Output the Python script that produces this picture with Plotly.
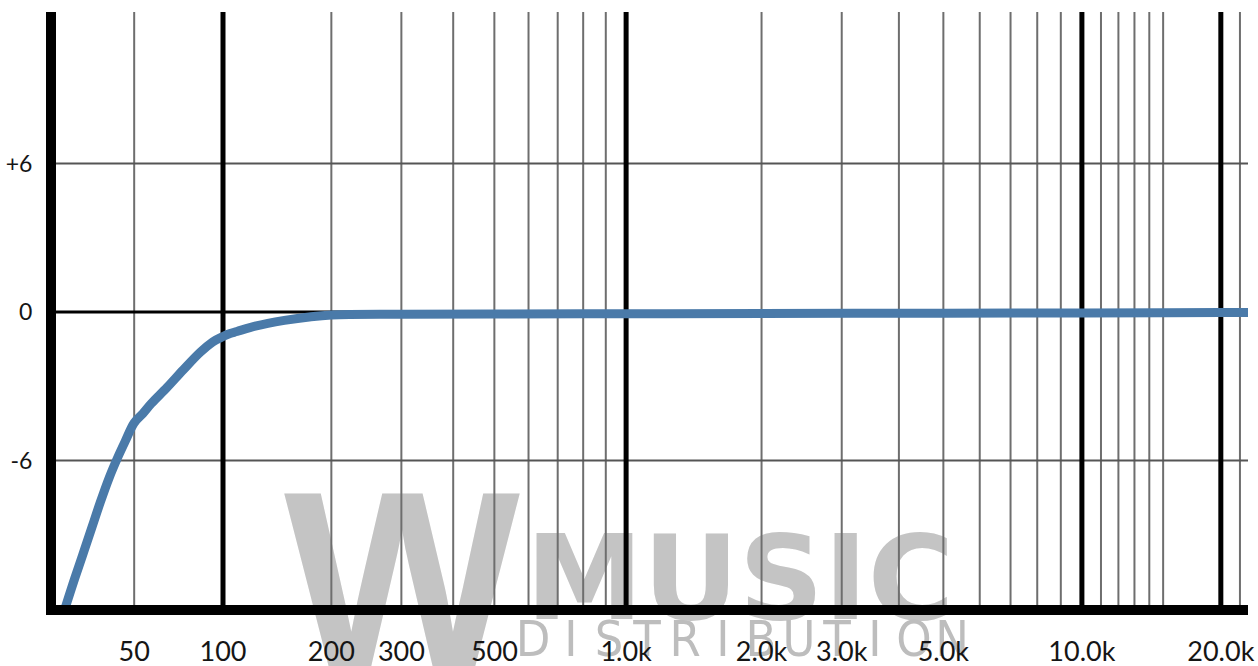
import math
import plotly.graph_objects as go

# High-pass response of the filter: frequency (Hz) and gain (dB)
freq_hz = [24, 27, 30, 33, 36, 39.5, 43, 46, 50, 54, 58, 66, 75, 85, 93, 100,
           105, 110, 120, 135, 150, 175, 200, 300, 500, 1000, 2000, 5000,
           10000, 15000, 20000, 22900]
gain_db = [-11.9, -10.75, -9.7, -8.68, -7.7, -6.69, -5.86, -5.24, -4.48, -4.1,
           -3.7, -3.05, -2.33, -1.63, -1.21, -0.99, -0.87, -0.79, -0.63, -0.46,
           -0.34, -0.2, -0.12, -0.09, -0.08, -0.07, -0.06, -0.05, -0.04, -0.03,
           -0.02, -0.02]

# Frequency grid lines
major_grid_hz = [100, 1000, 10000, 20000]
minor_grid_hz = [50, 200, 300, 400, 500, 600, 700, 800, 900,
                 2000, 3000, 4000, 5000, 6000, 7000, 8000, 9000,
                 11000, 12000, 13000, 14000, 15000, 22000]

# Axis labels
tick_hz = [50, 100, 200, 300, 500, 1000, 2000, 3000, 5000, 10000, 20000]
tick_text = ["50", "100", "200", "300", "500", "1.0k", "2.0k", "3.0k",
             "5.0k", "10.0k", "20.0k"]
gain_ticks = [6, 0, -6]
gain_tick_text = ["+6", "0", "-6"]
gain_grid_db = [6, -6]

X_MIN_HZ, X_MAX_HZ = 21, 22900
Y_MIN_DB, Y_MAX_DB = -11.84, 12.12
# Frequency axis is logarithmic in (f + FREQ_OFFSET_HZ), giving the bass more room
FREQ_OFFSET_HZ = 40


def fx(f):
    return f + FREQ_OFFSET_HZ


def vlines(freqs):
    xs, ys = [], []
    for f in freqs:
        xs += [fx(f), fx(f), None]
        ys += [Y_MIN_DB, Y_MAX_DB, None]
    return xs, ys


def hlines(levels):
    xs, ys = [], []
    for g in levels:
        xs += [fx(X_MIN_HZ), fx(X_MAX_HZ), None]
        ys += [g, g, None]
    return xs, ys


fig = go.Figure()

mx, my = vlines(minor_grid_hz)
fig.add_trace(go.Scatter(x=mx, y=my, mode="lines", hoverinfo="skip",
                         line=dict(color="#6e6e6e", width=2)))
hx, hy = hlines(gain_grid_db)
fig.add_trace(go.Scatter(x=hx, y=hy, mode="lines", hoverinfo="skip",
                         line=dict(color="#555555", width=2)))
Mx, My = vlines(major_grid_hz)
fig.add_trace(go.Scatter(x=Mx, y=My, mode="lines", hoverinfo="skip",
                         line=dict(color="#000000", width=5)))
zx, zy = hlines([0])
fig.add_trace(go.Scatter(x=zx, y=zy, mode="lines", hoverinfo="skip",
                         line=dict(color="#000000", width=3)))

fig.add_trace(go.Scatter(x=[fx(f) for f in freq_hz], y=gain_db, mode="lines",
                         line=dict(color="#4a7aa9", width=9, shape="spline",
                                   smoothing=1.0),
                         hoverinfo="skip"))

# Watermark, kept underneath the grid and curve
L, R, T, B = 56, 1248, 12, 605


def px(x):
    return (x - L) / (R - L)


def py(y):
    return (B - y) / (B - T)


def mark(text, xc, yc, size, family, color, weight="normal", hw=40, hh=40):
    return dict(type="rect", xref="paper", yref="paper",
                x0=px(xc - hw), x1=px(xc + hw),
                y0=py(yc + hh), y1=py(yc - hh),
                line=dict(width=0), fillcolor="rgba(0,0,0,0)", layer="below",
                label=dict(text=text, textposition="middle center",
                           font=dict(size=size, family=family, color=color,
                                     weight=weight)))


wm_gray = "#c4c4c4"
shapes = [
    mark("W", 402, 555, 250, "Liberation Sans Narrow, Liberation Sans",
         wm_gray, "bold", hw=120, hh=130),
    mark("MUSIC", 740, 570, 118, "DejaVu Sans, sans-serif", wm_gray, "bold",
         hw=230, hh=60),
]
letter_x = [533, 571, 609, 647, 685, 723, 761, 799, 837, 875, 914, 952]
for ch, xc in zip("DISTRIBUTION", letter_x):
    shapes.append(mark(ch, xc, 635, 50,
                       "DejaVu Sans Condensed, Liberation Sans Narrow, Roboto",
                       "#bdbdbd", 300, hw=19, hh=30))

fig.update_layout(
    width=1258, height=666,
    margin=dict(l=L, r=1258 - R, t=T, b=666 - B, pad=0),
    paper_bgcolor="white", plot_bgcolor="white",
    showlegend=False,
    shapes=shapes,
    xaxis=dict(type="log", automargin=False,
               range=[math.log10(fx(X_MIN_HZ)), math.log10(fx(X_MAX_HZ))],
               tickmode="array", tickvals=[fx(f) for f in tick_hz],
               ticktext=tick_text, ticks="", showgrid=False, zeroline=False,
               showline=True, linecolor="black", linewidth=10,
               ticklabelstandoff=14,
               tickfont=dict(family="Lato, Carlito, sans-serif", size=27,
                             color="#151515")),
    yaxis=dict(range=[Y_MIN_DB, Y_MAX_DB], tickmode="array", automargin=False,
               tickvals=gain_ticks, ticktext=gain_tick_text, ticks="",
               showgrid=False, zeroline=False,
               showline=True, linecolor="black", linewidth=10,
               ticklabelstandoff=9,
               tickfont=dict(family="Lato, Carlito, sans-serif", size=23,
                             color="#151515")),
)

fig.write_html("out.html")
